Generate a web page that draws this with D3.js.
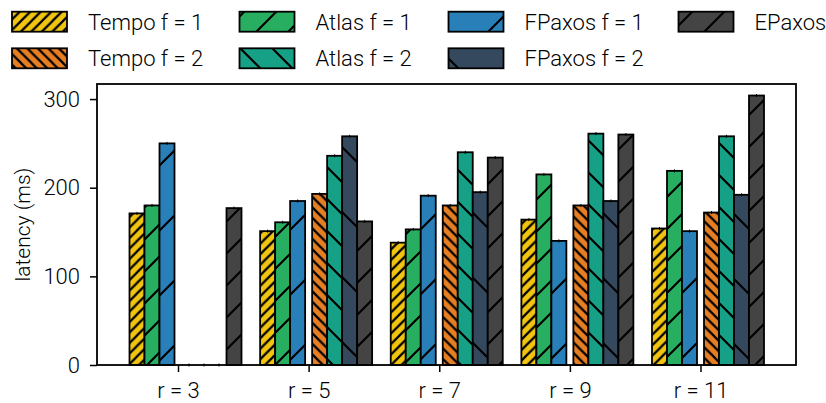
<!DOCTYPE html>
<html>
<head>
<meta charset="utf-8">
<script src="https://cdn.jsdelivr.net/npm/d3@7"></script>
<style>
  body { margin: 0; background: #fff; }
  text { font-family: Roboto, "Liberation Sans", sans-serif; font-weight: 300; fill: #000; }
</style>
</head>
<body>
<div id="chart"></div>
<script>
const categories = ["r = 3", "r = 5", "r = 7", "r = 9", "r = 11"];
const seriesNames = ["Tempo f = 1", "Atlas f = 1", "FPaxos f = 1",
                     "Tempo f = 2", "Atlas f = 2", "FPaxos f = 2", "EPaxos"];

// latency (ms) per series, one value per category
const tempo1  = [171, 151, 138, 164, 154];
const atlas1  = [180, 161, 153, 215, 219];
const fpaxos1 = [250, 185, 191, 140, 151];
const tempo2  = [0, 193, 180, 180, 172];
const atlas2  = [0, 236, 240, 261, 258];
const fpaxos2 = [0, 258, 195, 185, 192];
const epaxos  = [177, 162, 234, 260, 304];
const seriesValues = [tempo1, atlas1, fpaxos1, tempo2, atlas2, fpaxos2, epaxos];

const yTicks = [0, 100, 200, 300];

// look of each series: fill, hatch direction, hatch spacing
const styles = [
  { color: "#f1c40f", dir: "/",  gap: 10.5 },
  { color: "#27ae60", dir: "/",  gap: 32 },
  { color: "#2980b9", dir: "/",  gap: 65 },
  { color: "#e67e22", dir: "\\", gap: 10.5 },
  { color: "#16a085", dir: "\\", gap: 32 },
  { color: "#34495e", dir: "\\", gap: 65 },
  { color: "#444444", dir: "/",  gap: 32 }
];

const width = 826, height = 403;
const plot = { left: 97, right: 796, top: 84, bottom: 365 };
const barW = 15, midGap = 7;

const svg = d3.select("#chart").append("svg")
    .attr("width", width)
    .attr("height", height);

// hatch patterns
const defs = svg.append("defs");
styles.forEach((s, i) => {
  const g = s.gap;
  const p = defs.append("pattern")
      .attr("id", "hatch" + i)
      .attr("patternUnits", "userSpaceOnUse")
      .attr("width", g)
      .attr("height", g);
  p.append("rect").attr("width", g).attr("height", g).attr("fill", s.color);
  const d = s.dir === "/"
    ? `M0,${g} L${g},0 M${-g/4},${g/4} L${g/4},${-g/4} M${3*g/4},${5*g/4} L${5*g/4},${3*g/4}`
    : `M0,0 L${g},${g} M${-g/4},${3*g/4} L${g/4},${5*g/4} M${3*g/4},${-g/4} L${5*g/4},${g/4}`;
  p.append("path").attr("d", d).attr("stroke", "#000").attr("stroke-width", 2.2);
});

const x = d3.scalePoint()
    .domain(categories)
    .range([178, 700.5]);

const y = d3.scaleLinear()
    .domain([0, 317])
    .range([plot.bottom, plot.top]);

// offset of each series' bar from the category center
function barOffset(i) {
  return i < 3 ? -midGap / 2 - (3 - i) * barW : midGap / 2 + (i - 3) * barW;
}

// bars
const gBars = svg.append("g");
seriesValues.forEach((vals, i) => {
  const gs = gBars.append("g");
  gs.selectAll("rect")
    .data(vals)
    .join("rect")
      .attr("x", (d, j) => x(categories[j]) + barOffset(i))
      .attr("y", d => y(d))
      .attr("width", barW)
      .attr("height", d => y(0) - y(d))
      .attr("fill", `url(#hatch${i})`)
      .attr("stroke", "#000")
      .attr("stroke-width", 1.8);
  // tiny error bars
  gs.selectAll("line")
    .data(vals)
    .join("line")
      .attr("x1", (d, j) => x(categories[j]) + barOffset(i) + barW / 2)
      .attr("x2", (d, j) => x(categories[j]) + barOffset(i) + barW / 2)
      .attr("y1", d => y(d) - 1.5)
      .attr("y2", d => y(d) + 1.5)
      .attr("stroke", "#000")
      .attr("stroke-width", 1);
});

// frame
svg.append("rect")
    .attr("x", plot.left)
    .attr("y", plot.top)
    .attr("width", plot.right - plot.left)
    .attr("height", plot.bottom - plot.top)
    .attr("fill", "none")
    .attr("stroke", "#000")
    .attr("stroke-width", 1.8);

// axes
const yAxis = svg.append("g")
    .attr("transform", `translate(${plot.left},0)`)
    .call(d3.axisLeft(y).tickValues(yTicks).tickSize(7).tickPadding(10));
const xAxis = svg.append("g")
    .attr("transform", `translate(0,${plot.bottom})`)
    .call(d3.axisBottom(x).tickSize(7).tickPadding(10));
[yAxis, xAxis].forEach(a => {
  a.select(".domain").remove();
  a.selectAll(".tick line").attr("stroke", "#000").attr("stroke-width", 1.5);
  a.selectAll(".tick text").attr("font-size", 22).attr("fill", "#000")
    .attr("font-family", "Roboto, sans-serif").attr("font-weight", 300);
});

svg.append("text")
    .attr("transform", `translate(30,${(plot.top + plot.bottom) / 2}) rotate(-90)`)
    .attr("text-anchor", "middle")
    .attr("font-size", 21)
    .text("latency (ms)");

// legend: 4 columns, filled column by column
const legendOrder = [0, 3, 1, 4, 2, 5, 6];
const colX = [12, 239.5, 448.5, 678.5];
const rowY = [11.7, 48.3];
const legend = svg.append("g");
legendOrder.forEach((si, k) => {
  const cx = colX[Math.floor(k / 2)], ry = rowY[k % 2];
  legend.append("rect")
      .attr("x", cx).attr("y", ry)
      .attr("width", 55).attr("height", 20)
      .attr("fill", `url(#hatch${si})`)
      .attr("stroke", "#000")
      .attr("stroke-width", 1.8);
  legend.append("text")
      .attr("x", cx + 76)
      .attr("y", ry + 18)
      .attr("font-size", 22)
      .text(seriesNames[si]);
});
</script>
</body>
</html>
